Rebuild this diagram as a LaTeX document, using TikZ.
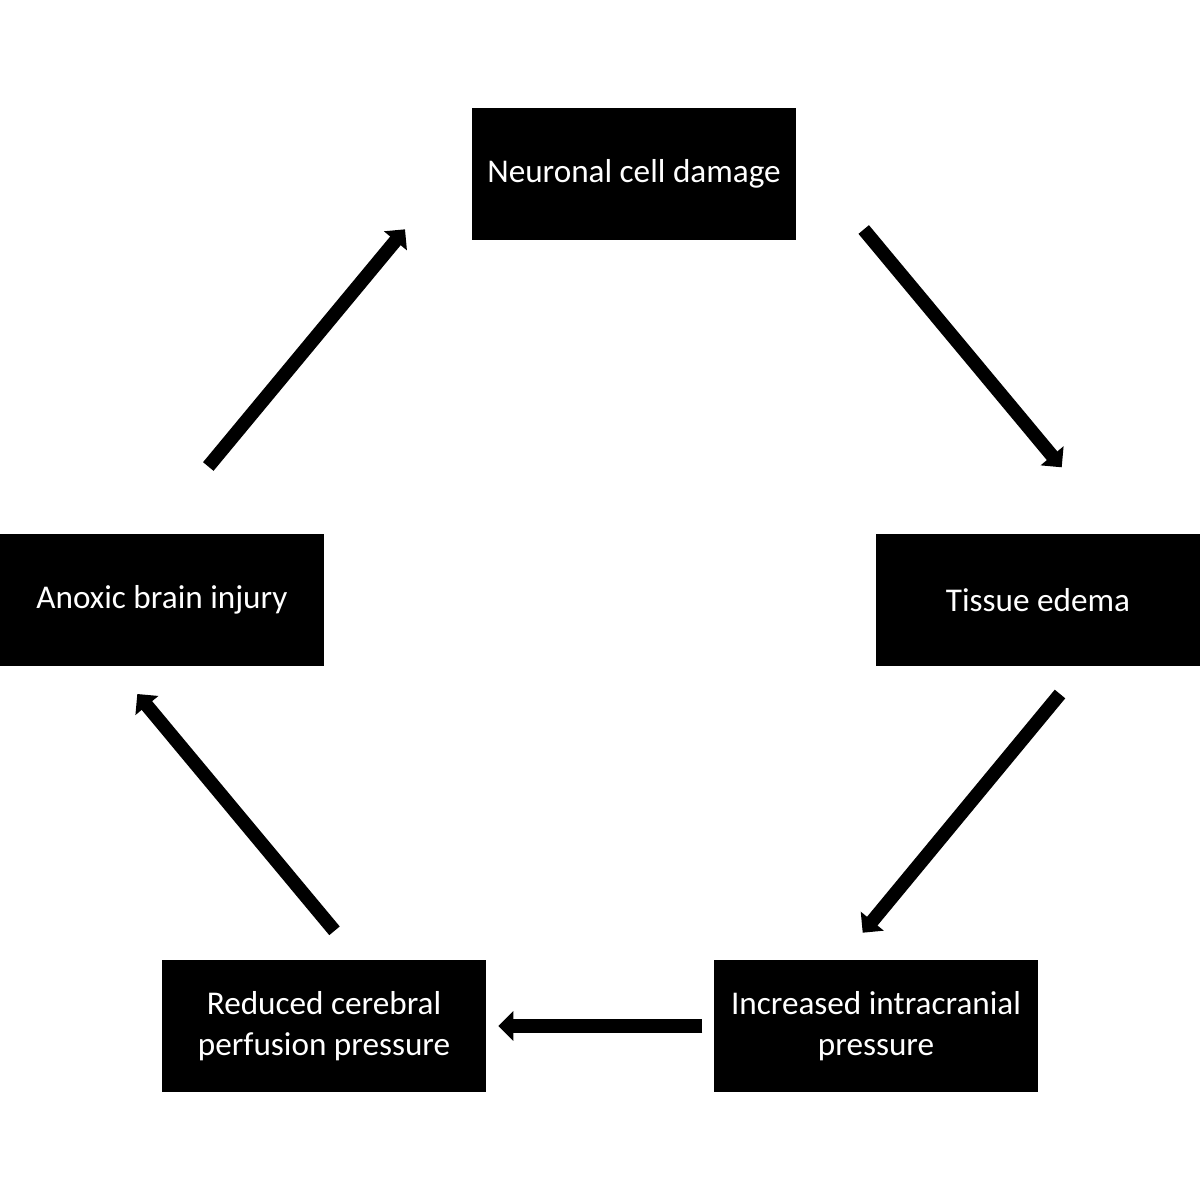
\documentclass[tikz,border=0pt]{standalone}
\usepackage{fontspec}
\setmainfont{Carlito}
\usetikzlibrary{arrows.meta}

\begin{document}
\begin{tikzpicture}[x=5pt,y=5pt]
			\tikzset{cycbox/.style={fill=black,text=white,minimum width=162pt,minimum height=66pt,inner sep=0pt,outer sep=0pt,align=center,font=\fontsize{16.6}{20.5}\selectfont},
				cycarrow/.style={line width=6.8pt,-{Triangle[width=14.5pt,length=7.5pt]}}}
			\useasboundingbox (0,0) rectangle (120,-120);
			\node [cycbox] (neuronal) at (63.4,-17.4) {Neuronal cell damage};
			\node [cycbox] (tissue) at (103.8,-60) {Tissue edema};
			\node [cycbox] (increased) at (87.6,-102.6) {Increased intracranial\\pressure};
			\node [cycbox] (reduced) at (32.4,-102.6) {Reduced cerebral\\perfusion pressure};
			\node [cycbox] (anoxic) at (16.2,-60) {Anoxic brain injury};
			\draw [cycarrow] ([shift={(4.63,6.75)}]anoxic.north) -- ([shift={(-6.7,1.07)}]neuronal.south west);
			\draw [cycarrow] ([shift={(6.77,1.05)}]neuronal.south east) -- ([shift={(2.37,6.67)}]tissue.north);
			\draw [cycarrow] ([shift={(2.2,-2.8)}]tissue.south) -- ([shift={(-1.33,2.73)}]increased.north);
			\draw [cycarrow] ([shift={(-1.17,0)}]increased.west) -- ([shift={(1.23,0)}]reduced.east);
			\draw [cycarrow] ([shift={(1.05,2.92)}]reduced.north) -- ([shift={(-2.47,-2.8)}]anoxic.south);
\end{tikzpicture}
\end{document}
